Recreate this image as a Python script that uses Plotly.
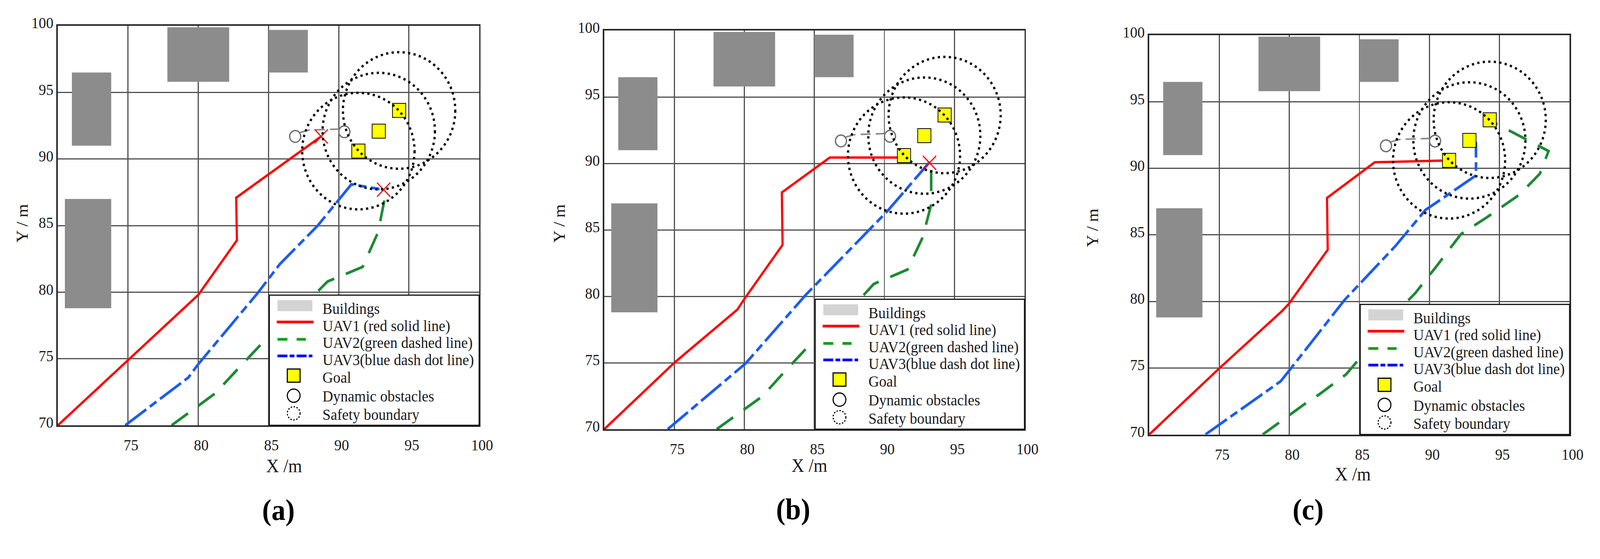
import plotly.graph_objects as go

FIG_W, FIG_H = 4346, 1430
FONT = "Liberation Serif"
TEXT = "#1a1a1a"
GRID = "#505050"
FRAME = "#262626"

# ---------------- data (metres) ----------------
# buildings, identical in the three scenes
BUILD_X0 = [71.0, 70.5, 77.8, 85.0]
BUILD_X1 = [73.8, 73.8, 82.2, 87.8]
BUILD_Y0 = [91.0, 78.8, 95.8, 96.5]
BUILD_Y1 = [96.5, 87.0, 99.9, 99.7]

# goals and their safety boundary radius
GOAL_X = [91.4, 92.85, 94.3]
GOAL_Y = [90.6, 92.1, 93.65]
SAFETY_R = 4.0

# dynamic obstacles and their track
OBST_X = [86.9, 90.4]
OBST_Y = [91.7, 92.05]
OBST_PATH_X = [87.25, 87.9, 90.0]
OBST_PATH_Y = [92.0, 92.18, 92.25]

# (a)
UAV1_A_X = [70.0, 75.0, 79.5, 80.0, 82.75, 82.7, 88.75]
UAV1_A_Y = [70.0, 74.9, 79.3, 79.8, 83.9, 87.1, 91.7]
UAV2_A_X = [78.1, 80.0, 81.2, 82.7, 84.4, 85.1, 88.5, 89.2, 91.7, 92.8, 93.25]
UAV2_A_Y = [70.0, 71.5, 72.4, 74.1, 76.0, 76.8, 80.05, 80.8, 81.9, 84.5, 86.9]
UAV3_A_X = [74.8, 79.3, 80.0, 84.2, 85.8, 88.5, 90.9, 92.9]
UAV3_A_Y = [70.0, 73.6, 74.6, 79.9, 82.1, 85.0, 88.1, 87.75]
HIT_A_X = [88.75, 93.2]
HIT_A_Y = [91.7, 87.7]

# (b)
UAV1_B_X = [70.0, 75.0, 79.5, 80.0, 82.73, 82.68, 86.1, 91.45]
UAV1_B_Y = [70.0, 75.0, 79.0, 79.8, 83.87, 87.82, 90.45, 90.45]
UAV2_B_X = [78.03, 80.08, 81.28, 82.73, 84.42, 85.14, 88.51, 89.24, 91.65, 92.73, 93.34, 93.34]
UAV2_B_Y = [70.0, 71.56, 72.47, 74.16, 76.11, 76.89, 80.09, 80.93, 82.02, 84.44, 86.91, 90.0]
UAV3_B_X = [74.53, 79.47, 80.08, 84.42, 90.2, 93.22]
UAV3_B_Y = [70.0, 74.42, 74.94, 80.15, 86.4, 90.1]
HIT_B_X = [93.22]
HIT_B_Y = [90.05]

# (c)
UAV1_C_X = [70.0, 75.0, 79.5, 79.95, 82.74, 82.69, 86.1, 91.5]
UAV1_C_Y = [70.0, 74.97, 79.3, 79.8, 83.88, 87.78, 90.46, 90.6]
UAV2_C_X = [78.1, 80.1, 81.3, 82.14, 84.06, 84.9, 88.27, 88.99, 90.55, 92.24, 92.6,
            94.04, 96.44, 97.88, 98.5, 94.5]
UAV2_C_Y = [70.0, 71.54, 72.45, 73.02, 74.53, 75.57, 79.85, 80.63, 82.71, 85.05, 85.31,
            86.28, 88.04, 89.6, 91.3, 93.5]
UAV3_C_X = [74.01, 79.38, 79.98, 83.94, 87.55, 89.71, 91.88, 93.32, 93.32]
UAV3_C_Y = [70.0, 74.0, 74.79, 80.11, 84.14, 86.87, 88.43, 89.47, 91.99]
HIT_C_X = []
HIT_C_Y = []

PANEL_LABELS = ["(a)", "(b)", "(c)"]
X_TICKS = [75, 80, 85, 90, 95, 100]
Y_TICKS = [70, 75, 80, 85, 90, 95, 100]
LEGEND_LABELS = ["Buildings", "UAV1 (red solid line)", "UAV2(green dashed line)",
                 "UAV3(blue dash dot line)", "Goal", "Dynamic obstacles", "Safety boundary"]

panels = [
    dict(uav1=(UAV1_A_X, UAV1_A_Y), uav2=(UAV2_A_X, UAV2_A_Y), uav3=(UAV3_A_X, UAV3_A_Y),
         hit=(HIT_A_X, HIT_A_Y)),
    dict(uav1=(UAV1_B_X, UAV1_B_Y), uav2=(UAV2_B_X, UAV2_B_Y), uav3=(UAV3_B_X, UAV3_B_Y),
         hit=(HIT_B_X, HIT_B_Y)),
    dict(uav1=(UAV1_C_X, UAV1_C_Y), uav2=(UAV2_C_X, UAV2_C_Y), uav3=(UAV3_C_X, UAV3_C_Y),
         hit=(HIT_C_X, HIT_C_Y)),
]

# plot-area boxes in pixels (left, top, right, bottom)
BOXES = [(158.5, 37.5, 1313, 1092.5), (1655.7, 50, 2807.3, 1102.7), (3149, 62.3, 4301, 1116.7)]
# title / caption anchors in pixels
XTITLE_POS = [(727, 1229), (2218, 1228), (3758, 1250)]
YTITLE_POS = [(35, 559), (1533, 559), (3020, 571)]
CAPTION_POS = [(716, 1362), (2174, 1360), (3629, 1361)]


def px_x(v):
    return v / FIG_W


def px_y(v):
    return 1 - v / FIG_H


def add_legend(fig, sfx, pw, ph):
    xr, yr = f"x{sfx} domain", f"y{sfx} domain"
    hx, hy = 17.5 / pw, 17.5 / ph
    common = dict(xref=xr, yref=yr, layer="above")
    # frame
    fig.add_shape(type="rect", x0=0.502, x1=1.0, y0=0.0, y1=0.326,
                  fillcolor="white", line=dict(color="#111", width=3), **common)
    # swatches
    fig.add_shape(type="rect", x0=0.5213, x1=0.6042, y0=0.2858, y1=0.3133,
                  fillcolor="#d3d3d3", line=dict(width=0), **common)
    fig.add_shape(type="line", x0=0.5196, x1=0.6069, y0=0.2587, y1=0.2587,
                  line=dict(color="#ff0000", width=7), **common)
    fig.add_shape(type="line", x0=0.5213, x1=0.5886, y0=0.2154, y1=0.2154,
                  line=dict(color="#12a012", width=7, dash="27px,25px"), **common)
    fig.add_shape(type="line", x0=0.5213, x1=0.6042, y0=0.1738, y1=0.1738,
                  line=dict(color="#0000ff", width=7, dash="27px,6px,13px,6px"), **common)
    cx = 0.5598
    fig.add_shape(type="rect", x0=cx - hx, x1=cx + hx, y0=0.1245 - hy, y1=0.1245 + hy,
                  fillcolor="#ffff00", line=dict(color="black", width=3), **common)
    fig.add_shape(type="circle", x0=cx - hx, x1=cx + hx, y0=0.0743 - hy, y1=0.0743 + hy,
                  line=dict(color="black", width=3), **common)
    fig.add_shape(type="circle", x0=cx - hx, x1=cx + hx, y0=0.0301 - hy, y1=0.0301 + hy,
                  line=dict(color="black", width=3, dash="4px,4px"), **common)
    ys = [0.2921, 0.2495, 0.2069, 0.1643, 0.1201, 0.0727, 0.027]
    for lab, yy in zip(LEGEND_LABELS, ys):
        fig.add_annotation(text=lab, xref=xr, yref=yr, x=0.6267, y=yy, xanchor="left",
                           yanchor="middle", showarrow=False,
                           font=dict(family=FONT, size=40, color=TEXT))


fig = go.Figure()
layout = {}

for i, p in enumerate(panels):
    sfx = "" if i == 0 else str(i + 1)
    xa, ya = f"x{sfx}", f"y{sfx}"
    left, top, right, bottom = BOXES[i]
    pw, ph = right - left, bottom - top

    tickfont = dict(family=FONT, size=40, color=TEXT)
    layout[f"xaxis{sfx}"] = dict(
        domain=[px_x(left), px_x(right)], anchor=ya, range=[70, 100],
        tickvals=X_TICKS, tickfont=tickfont, ticks="", ticklabelstandoff=12,
        ticklabelshift=8, showgrid=True, gridcolor=GRID, gridwidth=3,
        zeroline=False, showline=True, mirror=True, linecolor=FRAME, linewidth=4,
        fixedrange=True)
    layout[f"yaxis{sfx}"] = dict(
        domain=[px_y(bottom), px_y(top)], anchor=xa, range=[70, 100],
        tickvals=Y_TICKS, tickfont=tickfont, ticks="", ticklabelstandoff=0,
        ticklabelshift=-8, showgrid=True, gridcolor=GRID, gridwidth=3,
        zeroline=False, showline=True, mirror=True, linecolor=FRAME, linewidth=4,
        fixedrange=True)

    # buildings
    for x0, x1, y0, y1 in zip(BUILD_X0, BUILD_X1, BUILD_Y0, BUILD_Y1):
        fig.add_shape(type="rect", xref=xa, yref=ya, x0=x0, x1=x1, y0=y0, y1=y1,
                      fillcolor="#8c8c8c", line=dict(width=0), layer="between")

    # UAV tracks
    fig.add_trace(go.Scatter(x=p["uav1"][0], y=p["uav1"][1], mode="lines",
                             line=dict(color="#ff0000", width=6),
                             xaxis=xa, yaxis=ya, showlegend=False, hoverinfo="skip"))
    fig.add_trace(go.Scatter(x=p["uav3"][0], y=p["uav3"][1], mode="lines",
                             line=dict(color="#1c5cf0", width=7, dash="70px,12px,22px,12px"),
                             xaxis=xa, yaxis=ya, showlegend=False, hoverinfo="skip"))
    fig.add_trace(go.Scatter(x=p["uav2"][0], y=p["uav2"][1], mode="lines",
                             line=dict(color="#1e8a34", width=7, dash="54px,34px"),
                             xaxis=xa, yaxis=ya, showlegend=False, hoverinfo="skip"))

    # dynamic obstacles
    fig.add_trace(go.Scatter(x=OBST_PATH_X, y=OBST_PATH_Y, mode="lines",
                             line=dict(color="#8a8a8a", width=4, dash="27px,14px"),
                             xaxis=xa, yaxis=ya, showlegend=False, hoverinfo="skip"))
    fig.add_trace(go.Scatter(x=OBST_X, y=OBST_Y, mode="markers",
                             marker=dict(symbol="circle-open", size=30, color="#6e6e6e",
                                         line=dict(width=3.5)),
                             xaxis=xa, yaxis=ya, showlegend=False, hoverinfo="skip"))

    # goals
    fig.add_trace(go.Scatter(x=GOAL_X, y=GOAL_Y, mode="markers",
                             marker=dict(symbol="square", size=36, color="#ffff00",
                                         line=dict(color="black", width=2)),
                             xaxis=xa, yaxis=ya, showlegend=False, hoverinfo="skip"))

    # collision marks
    fig.add_trace(go.Scatter(x=p["hit"][0], y=p["hit"][1], mode="markers",
                             marker=dict(symbol="x-thin", size=36, color="#ff0000",
                                         line=dict(color="#ff0000", width=3)),
                             xaxis=xa, yaxis=ya, showlegend=False, hoverinfo="skip"))

    # safety boundaries (round on screen, so scale the y radius by the box aspect)
    ry = SAFETY_R * pw / ph
    for gx, gy in zip(GOAL_X, GOAL_Y):
        fig.add_shape(type="circle", xref=xa, yref=ya,
                      x0=gx - SAFETY_R, x1=gx + SAFETY_R, y0=gy - ry, y1=gy + ry,
                      line=dict(color="black", width=6, dash="6px,9px"), layer="above")

    add_legend(fig, sfx, pw, ph)

    # axis titles and caption
    fig.add_annotation(text="X /m", xref="paper", yref="paper",
                       x=px_x(XTITLE_POS[i][0]), y=px_y(XTITLE_POS[i][1]),
                       showarrow=False, font=dict(family=FONT, size=48, color=TEXT))
    fig.add_annotation(text="Y / m", xref="paper", yref="paper", textangle=-90,
                       x=px_x(YTITLE_POS[i][0]), y=px_y(YTITLE_POS[i][1]),
                       showarrow=False, font=dict(family=FONT, size=44, color=TEXT))
    fig.add_annotation(text=f"<b>{PANEL_LABELS[i]}</b>", xref="paper", yref="paper",
                       x=px_x(CAPTION_POS[i][0]), y=px_y(CAPTION_POS[i][1]),
                       showarrow=False, font=dict(family=FONT, size=76, color="black"))

fig.update_layout(
    width=FIG_W, height=FIG_H,
    margin=dict(l=0, r=0, t=0, b=0),
    paper_bgcolor="white", plot_bgcolor="white",
    showlegend=False,
    **layout,
)

# the browser viewport can be narrower than the figure, so scale the figure to fit it
fit_js = """
document.documentElement.style.overflow = 'hidden';
document.body.style.margin = '0';
document.body.style.overflow = 'hidden';
var gd = document.getElementsByClassName('plotly-graph-div')[0];
var sx = window.innerWidth / %d, sy = window.innerHeight / %d;
gd.style.transformOrigin = '0 0';
gd.style.transform = 'scale(' + sx + ',' + sy + ')';
""" % (FIG_W, FIG_H)

fig.write_html("out.html", post_script=fit_js, config={"displayModeBar": False})
